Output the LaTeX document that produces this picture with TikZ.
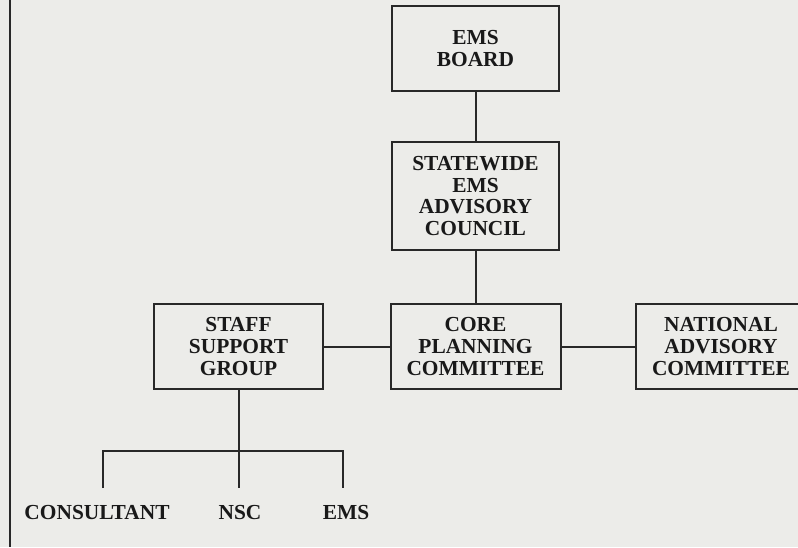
\documentclass[tikz,border=0pt]{standalone}
\usepackage{fontspec}
\setmainfont{Liberation Serif}
\usetikzlibrary{positioning}

\definecolor{paper}{RGB}{236,236,233}
\definecolor{ink}{RGB}{40,40,40}

\tikzset{
  orgbox/.style={draw=ink, line width=1pt, align=center, text=black!90,
    font=\fontsize{10.7}{10.9}\selectfont\bfseries, inner sep=0pt},
  leaf/.style={text=black!90, font=\fontsize{10.7}{10.9}\selectfont\bfseries, inner sep=0pt},
  link/.style={draw=ink, line width=1pt}
}

\begin{document}
\begin{tikzpicture}[x=0.5pt, y=-0.5pt]

  % page, with the scanned margin rule on the left
  \fill[paper] (0,0) rectangle (798,547);
  \useasboundingbox (0,0) rectangle (798,547);
  \draw[ink, line width=0.8pt] (10,0) -- (10,547);

  % ---- (1) top of the chain ----
  \node[orgbox, minimum width=167*0.5pt, minimum height=85*0.5pt]
    (board) at (475.5,48.5) {EMS\\BOARD};
  \node[orgbox, minimum width=167*0.5pt, minimum height=108*0.5pt]
    (council) at (475.5,196) {STATEWIDE\\EMS\\ADVISORY\\COUNCIL};

  % ---- (2) the middle row ----
  \node[orgbox, minimum width=169*0.5pt, minimum height=85*0.5pt]
    (staff) at (238.5,346.5) {STAFF\\SUPPORT\\GROUP};
  \node[orgbox, minimum width=170*0.5pt, minimum height=85*0.5pt]
    (core) at (475.5,346.5) {CORE\\PLANNING\\COMMITTEE};
  \node[orgbox, minimum width=170*0.5pt, minimum height=85*0.5pt]
    (national) at (721,346.5) {NATIONAL\\ADVISORY\\COMMITTEE};

  % ---- (3) the three names under the staff group ----
  \node[leaf] (consultant) at (97,513) {CONSULTANT};
  \node[leaf] (nsc) at (240,513) {NSC};
  \node[leaf] (ems) at (346,513) {EMS};

  \coordinate (nscTop) at (238.5,488);
  \coordinate (bracketL) at (103,451);
  \coordinate (bracketR) at (343,451);
  \coordinate (dropL) at (103,488);
  \coordinate (dropR) at (343,488);

  % ---- connectors ----
  \draw[link] (board) -- (council);
  \draw[link] (council) -- (core);
  \draw[link] (staff) -- (core);
  \draw[link] (core) -- (national);
  \draw[link] (staff.south -| nscTop) -- (nscTop);
  \draw[link] (dropL) -- (bracketL) -- (bracketR) -- (dropR);

\end{tikzpicture}
\end{document}
